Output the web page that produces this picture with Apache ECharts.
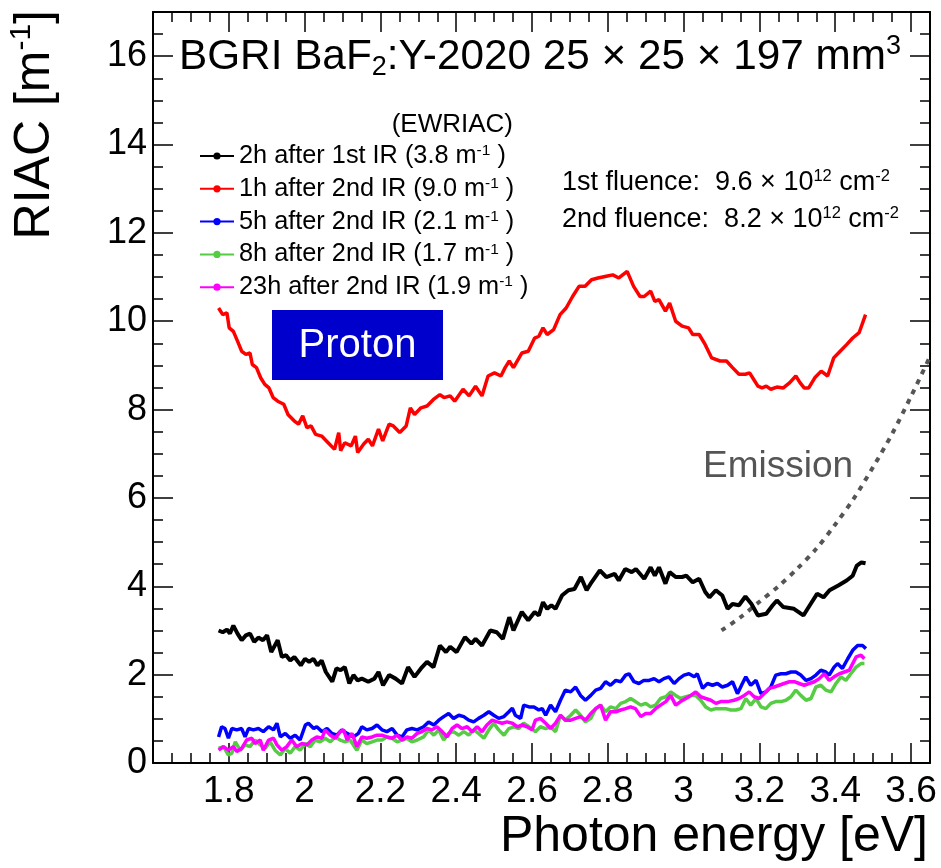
<!DOCTYPE html>
<html>
<head>
<meta charset="utf-8">
<script src="https://cdn.jsdelivr.net/npm/echarts@6/dist/echarts.min.js"></script>
<style>
  html, body { margin: 0; padding: 0; background: #fff; }
  #chart { width: 941px; height: 868px; }
</style>
</head>
<body>
<div id="chart"></div>
<script>
// RIAC spectra of a BaF2:Y crystal after two proton irradiations: [photon energy (eV), RIAC (1/m)]
const after1stIR_2h = [
  [1.773,3.00],[1.784,2.96],[1.795,3.02],[1.803,2.93],[1.812,3.11],[1.823,2.93],[1.834,2.78],[1.845,2.89],
  [1.856,2.93],[1.867,2.74],[1.878,2.84],[1.890,2.78],[1.901,2.89],[1.912,2.51],[1.929,2.78],[1.940,2.40],
  [1.951,2.44],[1.962,2.32],[1.973,2.40],[1.990,2.21],[2.001,2.36],[2.012,2.29],[2.023,2.36],[2.034,2.21],
  [2.045,2.32],[2.056,2.06],[2.073,1.84],[2.084,2.14],[2.095,2.10],[2.106,2.17],[2.118,1.80],[2.129,1.99],
  [2.140,1.87],[2.151,1.91],[2.168,1.84],[2.184,1.91],[2.195,2.06],[2.207,1.76],[2.223,1.99],[2.240,1.91],
  [2.257,1.80],[2.273,2.17],[2.290,1.95],[2.307,2.14],[2.323,2.29],[2.340,2.17],[2.357,2.66],[2.373,2.51],
  [2.384,2.63],[2.401,2.51],[2.423,2.85],[2.440,2.70],[2.451,2.81],[2.468,2.66],[2.490,3.00],[2.507,2.96],
  [2.523,2.81],[2.540,3.30],[2.551,3.00],[2.573,3.42],[2.590,3.23],[2.607,3.42],[2.618,3.34],[2.629,3.64],
  [2.640,3.49],[2.651,3.57],[2.662,3.49],[2.679,3.79],[2.696,3.91],[2.712,3.94],[2.729,4.21],[2.744,3.91],
  [2.757,4.09],[2.779,4.36],[2.796,4.21],[2.818,4.28],[2.829,4.13],[2.846,4.39],[2.863,4.32],[2.874,4.39],
  [2.896,4.17],[2.913,4.43],[2.924,4.24],[2.935,4.43],[2.952,4.06],[2.963,4.32],[2.979,4.21],[2.996,4.21],
  [3.007,4.24],[3.024,4.09],[3.041,4.17],[3.057,3.87],[3.068,3.75],[3.085,3.91],[3.102,3.79],[3.116,3.49],
  [3.129,3.60],[3.146,3.57],[3.163,3.77],[3.179,3.60],[3.196,3.34],[3.218,3.38],[3.235,3.57],[3.246,3.68],
  [3.263,3.53],[3.291,3.49],[3.316,3.34],[3.335,3.60],[3.352,3.83],[3.369,3.75],[3.385,3.91],[3.408,4.02],
  [3.430,4.13],[3.446,4.24],[3.457,4.47],[3.469,4.54],[3.480,4.52]
];

const after2ndIR_1h = [
  [1.773,10.30],[1.784,10.15],[1.795,10.19],[1.801,9.85],[1.812,9.77],[1.823,9.55],[1.834,9.32],[1.845,9.25],
  [1.856,9.28],[1.862,9.02],[1.873,8.95],[1.884,8.72],[1.895,8.57],[1.906,8.49],[1.917,8.27],[1.929,8.19],
  [1.945,8.12],[1.956,7.89],[1.973,7.74],[1.984,7.67],[1.995,7.86],[2.006,7.59],[2.017,7.63],[2.029,7.44],
  [2.045,7.40],[2.062,7.25],[2.079,7.10],[2.090,7.48],[2.095,7.07],[2.106,7.25],[2.123,7.18],[2.134,7.40],
  [2.140,7.03],[2.156,7.22],[2.168,7.33],[2.179,7.18],[2.195,7.56],[2.206,7.29],[2.223,7.67],[2.234,7.63],
  [2.251,7.48],[2.268,7.63],[2.279,8.04],[2.290,7.89],[2.307,8.04],[2.323,8.08],[2.340,8.23],[2.357,8.34],
  [2.368,8.27],[2.384,8.31],[2.396,8.19],[2.418,8.46],[2.434,8.31],[2.451,8.53],[2.468,8.31],[2.484,8.76],
  [2.501,8.83],[2.518,8.76],[2.529,8.95],[2.540,9.10],[2.551,8.95],[2.573,9.28],[2.590,9.32],[2.607,9.62],
  [2.618,9.66],[2.629,9.85],[2.640,9.70],[2.657,9.81],[2.674,10.15],[2.690,10.30],[2.707,10.56],[2.724,10.79],
  [2.740,10.79],[2.757,10.94],[2.774,10.98],[2.796,11.02],[2.813,11.05],[2.829,10.98],[2.851,11.13],[2.868,10.79],
  [2.885,10.56],[2.896,10.56],[2.913,10.68],[2.924,10.45],[2.935,10.49],[2.952,10.23],[2.963,10.41],[2.979,10.00],
  [2.996,9.89],[3.013,9.85],[3.024,9.70],[3.041,9.70],[3.057,9.47],[3.074,9.17],[3.096,9.10],[3.113,9.10],
  [3.129,8.95],[3.146,8.80],[3.163,8.80],[3.174,8.83],[3.185,8.68],[3.196,8.53],[3.207,8.49],[3.218,8.53],
  [3.230,8.46],[3.246,8.51],[3.263,8.49],[3.280,8.61],[3.296,8.76],[3.307,8.61],[3.318,8.49],[3.330,8.49],
  [3.346,8.72],[3.363,8.87],[3.380,8.76],[3.396,9.17],[3.413,9.32],[3.430,9.47],[3.446,9.62],[3.463,9.74],
  [3.480,10.15]
];

const after2ndIR_5h = [
  [1.773,0.59],[1.781,0.82],[1.790,0.78],[1.799,0.56],[1.808,0.78],[1.821,0.75],[1.834,0.78],[1.843,0.59],
  [1.852,0.78],[1.865,0.75],[1.878,0.78],[1.891,0.71],[1.905,0.82],[1.918,0.75],[1.927,0.90],[1.936,0.59],
  [1.949,0.67],[1.962,0.56],[1.975,0.63],[1.988,0.52],[2.002,0.86],[2.010,0.90],[2.024,0.78],[2.032,0.82],
  [2.046,0.71],[2.059,0.78],[2.072,0.67],[2.085,0.63],[2.098,0.75],[2.112,0.67],[2.129,0.59],[2.142,0.67],
  [2.151,0.82],[2.164,0.75],[2.178,0.78],[2.191,0.86],[2.204,0.75],[2.217,0.71],[2.231,0.78],[2.244,0.63],
  [2.257,0.59],[2.270,0.75],[2.283,0.78],[2.297,0.75],[2.314,0.82],[2.327,0.93],[2.341,0.86],[2.354,0.97],
  [2.367,1.05],[2.380,1.12],[2.393,1.01],[2.407,1.08],[2.420,1.05],[2.433,0.97],[2.446,0.93],[2.459,1.01],
  [2.473,1.08],[2.486,1.16],[2.499,1.08],[2.512,1.01],[2.526,1.05],[2.539,1.16],[2.548,1.24],[2.556,1.08],
  [2.570,1.01],[2.578,1.31],[2.592,1.27],[2.605,1.27],[2.618,1.20],[2.627,1.23],[2.636,1.08],[2.649,1.31],
  [2.662,1.16],[2.675,1.42],[2.688,1.65],[2.702,1.61],[2.715,1.72],[2.728,1.53],[2.741,1.42],[2.755,1.53],
  [2.768,1.65],[2.781,1.69],[2.794,1.84],[2.807,1.76],[2.821,1.87],[2.834,1.84],[2.847,1.99],[2.856,2.02],
  [2.869,1.84],[2.882,1.80],[2.895,1.87],[2.909,1.87],[2.922,1.91],[2.935,1.84],[2.948,1.91],[2.961,1.95],
  [2.975,1.80],[2.988,1.91],[3.001,1.99],[3.014,2.02],[3.028,1.95],[3.036,2.02],[3.050,1.69],[3.063,1.80],
  [3.076,1.76],[3.089,1.80],[3.102,1.72],[3.116,1.76],[3.129,1.84],[3.142,1.57],[3.155,1.80],[3.164,1.95],
  [3.177,1.76],[3.191,1.87],[3.204,1.57],[3.217,1.61],[3.230,1.72],[3.243,1.99],[3.257,2.02],[3.270,2.02],
  [3.283,2.06],[3.296,2.06],[3.309,1.99],[3.323,1.87],[3.336,1.91],[3.349,1.99],[3.362,2.10],[3.375,2.06],
  [3.384,1.99],[3.397,2.17],[3.406,2.25],[3.419,2.14],[3.433,2.36],[3.446,2.55],[3.459,2.66],[3.472,2.66],
  [3.481,2.59]
];

const after2ndIR_8h = [
  [1.773,0.33],[1.786,0.37],[1.799,0.18],[1.808,0.22],[1.817,0.48],[1.830,0.29],[1.843,0.41],[1.856,0.37],
  [1.869,0.52],[1.883,0.41],[1.896,0.33],[1.909,0.48],[1.922,0.29],[1.936,0.18],[1.949,0.33],[1.962,0.22],
  [1.975,0.37],[1.988,0.29],[2.002,0.44],[2.015,0.37],[2.028,0.52],[2.041,0.48],[2.054,0.56],[2.068,0.48],
  [2.081,0.59],[2.094,0.52],[2.107,0.48],[2.120,0.52],[2.138,0.29],[2.151,0.52],[2.164,0.44],[2.178,0.48],
  [2.191,0.52],[2.204,0.52],[2.217,0.59],[2.231,0.56],[2.244,0.48],[2.257,0.52],[2.270,0.56],[2.283,0.48],
  [2.297,0.52],[2.314,0.59],[2.327,0.75],[2.341,0.63],[2.354,0.75],[2.367,0.52],[2.380,0.67],[2.393,0.71],
  [2.407,0.63],[2.420,0.71],[2.433,0.63],[2.446,0.75],[2.459,0.67],[2.473,0.56],[2.486,0.75],[2.499,0.90],
  [2.512,0.75],[2.526,0.63],[2.539,0.78],[2.552,0.82],[2.565,0.78],[2.578,0.90],[2.592,0.82],[2.609,0.71],
  [2.622,0.82],[2.636,0.78],[2.649,0.82],[2.662,0.71],[2.675,1.08],[2.688,0.97],[2.702,1.08],[2.715,1.20],
  [2.728,1.08],[2.741,0.93],[2.755,1.01],[2.768,1.23],[2.781,1.31],[2.794,1.16],[2.807,1.27],[2.821,1.23],
  [2.834,1.35],[2.847,1.39],[2.860,1.46],[2.873,1.39],[2.887,1.31],[2.900,1.35],[2.913,1.27],[2.926,1.31],
  [2.939,1.46],[2.953,1.50],[2.966,1.61],[2.979,1.53],[2.992,1.46],[3.006,1.50],[3.019,1.53],[3.032,1.53],
  [3.045,1.42],[3.058,1.27],[3.072,1.20],[3.085,1.23],[3.098,1.23],[3.111,1.23],[3.124,1.20],[3.138,1.20],
  [3.151,1.23],[3.164,1.46],[3.177,1.31],[3.191,1.46],[3.204,1.27],[3.217,1.23],[3.230,1.35],[3.243,1.39],
  [3.257,1.39],[3.270,1.42],[3.283,1.50],[3.296,1.65],[3.309,1.53],[3.323,1.42],[3.336,1.46],[3.349,1.72],
  [3.362,1.76],[3.375,1.65],[3.389,1.61],[3.402,1.80],[3.415,1.95],[3.428,1.87],[3.441,2.02],[3.455,2.17],
  [3.468,2.25],[3.477,2.25]
];

const after2ndIR_23h = [
  [1.773,0.29],[1.786,0.37],[1.799,0.29],[1.812,0.37],[1.821,0.26],[1.834,0.33],[1.847,0.52],[1.861,0.56],
  [1.869,0.44],[1.883,0.52],[1.891,0.29],[1.905,0.52],[1.918,0.56],[1.927,0.41],[1.940,0.29],[1.953,0.37],
  [1.966,0.52],[1.979,0.37],[1.993,0.44],[2.006,0.41],[2.019,0.52],[2.032,0.59],[2.046,0.56],[2.054,0.75],
  [2.068,0.63],[2.081,0.56],[2.094,0.71],[2.103,0.75],[2.112,0.52],[2.125,0.67],[2.138,0.37],[2.151,0.59],
  [2.164,0.56],[2.178,0.59],[2.191,0.63],[2.204,0.63],[2.217,0.59],[2.231,0.56],[2.244,0.63],[2.257,0.52],
  [2.270,0.59],[2.283,0.56],[2.297,0.67],[2.310,0.71],[2.323,0.78],[2.336,0.75],[2.349,0.82],[2.363,0.71],
  [2.376,0.59],[2.389,0.78],[2.402,0.86],[2.415,0.78],[2.429,0.82],[2.442,0.71],[2.455,0.82],[2.468,0.71],
  [2.481,0.86],[2.495,0.97],[2.508,0.93],[2.521,0.90],[2.534,0.93],[2.548,0.90],[2.561,0.82],[2.574,0.86],
  [2.587,0.82],[2.600,0.75],[2.609,0.97],[2.622,1.01],[2.636,0.90],[2.649,0.78],[2.662,0.90],[2.675,1.08],
  [2.688,0.97],[2.702,0.97],[2.715,1.01],[2.728,1.05],[2.741,0.97],[2.755,1.12],[2.768,1.23],[2.781,1.31],
  [2.794,0.97],[2.807,1.16],[2.821,1.16],[2.834,1.20],[2.847,1.23],[2.860,1.27],[2.873,1.23],[2.887,1.05],
  [2.900,1.12],[2.913,1.12],[2.926,1.23],[2.939,1.31],[2.953,1.39],[2.966,1.53],[2.979,1.31],[2.992,1.39],
  [3.006,1.46],[3.019,1.53],[3.032,1.61],[3.045,1.50],[3.058,1.46],[3.072,1.42],[3.085,1.35],[3.098,1.39],
  [3.116,1.39],[3.133,1.42],[3.146,1.46],[3.160,1.53],[3.173,1.61],[3.186,1.50],[3.199,1.46],[3.212,1.57],
  [3.226,1.69],[3.239,1.72],[3.252,1.76],[3.265,1.80],[3.279,1.84],[3.292,1.84],[3.305,1.80],[3.318,1.76],
  [3.331,1.80],[3.345,1.84],[3.358,1.91],[3.371,2.02],[3.384,1.87],[3.397,1.95],[3.411,2.02],[3.424,2.06],
  [3.437,2.10],[3.446,2.25],[3.455,2.40],[3.468,2.44],[3.477,2.36]
];

// scintillation emission profile (arbitrary scale), drawn dotted
const emission = [
  [3.10,3.00],[3.15,3.30],[3.20,3.65],[3.25,4.00],[3.30,4.40],[3.35,4.85],[3.40,5.40],[3.45,6.00],
  [3.50,6.70],[3.55,7.45],[3.60,8.30],[3.65,9.20]
];

const seriesNames = [
  '2h after 1st IR (3.8 m-1 )',
  '1h after 2nd IR (9.0 m-1 )',
  '5h after 2nd IR (2.1 m-1 )',
  '8h after 2nd IR (1.7 m-1 )',
  '23h after 2nd IR (1.9 m-1 )'
];
const seriesColors = ['#000000', '#ff0000', '#0000ff', '#55cc44', '#ff00ff'];
const seriesWidths = [4, 3.5, 3.5, 3.5, 3.5];
const seriesData = [after1stIR_2h, after2ndIR_1h, after2ndIR_5h, after2ndIR_8h, after2ndIR_23h];

const xMin = 1.6, xMax = 3.65, xStep = 0.2;
const yMin = 0, yMax = 17, yStep = 2;

const FONT = 'Liberation Sans';

const chart = echarts.init(document.getElementById('chart'), null, { renderer: 'canvas' });

const frameLine = { show: true, onZero: false, lineStyle: { color: '#000', width: 2 } };
const majorTick = { show: true, inside: true, length: 20, lineStyle: { color: '#000', width: 1.5 } };
const minorTick = { show: true, splitNumber: 4, length: 10, lineStyle: { color: '#000', width: 1.5 } };

function dataSeries(i) {
  return {
    type: 'line',
    name: seriesNames[i],
    data: seriesData[i],
    symbol: 'circle',
    symbolSize: 7,
    showSymbol: false,
    smooth: false,
    color: seriesColors[i],
    lineStyle: { color: seriesColors[i], width: seriesWidths[i] },
    itemStyle: { color: seriesColors[i] },
    emphasis: { disabled: true },
    z: 3 + i
  };
}

const supStyle = { fontFamily: FONT, fontSize: 15.5, color: '#000', verticalAlign: 'top', lineHeight: 15 };

chart.setOption({
  animation: false,
  backgroundColor: '#fff',
  grid: { left: 153, right: 11, top: 12, bottom: 105, containLabel: false },
  xAxis: [
    {
      type: 'value', position: 'bottom', min: xMin, max: xMax, interval: xStep,
      axisLine: frameLine, axisTick: majorTick, minorTick: minorTick,
      splitLine: { show: false }, minorSplitLine: { show: false },
      axisLabel: {
        show: true, margin: 10, fontFamily: FONT, fontSize: 37, color: '#000',
        showMinLabel: false, showMaxLabel: false,
        formatter: v => (Math.abs(v - xMin) < 1e-6 ? '' : String(Math.round(v * 10) / 10))
      }
    },
    {
      type: 'value', position: 'top', min: xMin, max: xMax, interval: xStep,
      axisLine: frameLine, axisTick: majorTick, minorTick: minorTick,
      splitLine: { show: false }, axisLabel: { show: false }
    }
  ],
  yAxis: [
    {
      type: 'value', position: 'left', min: yMin, max: yMax, interval: yStep,
      axisLine: frameLine, axisTick: majorTick, minorTick: minorTick,
      splitLine: { show: false }, minorSplitLine: { show: false },
      axisLabel: { show: true, margin: 6, fontFamily: FONT, fontSize: 36, color: '#000', showMaxLabel: false }
    },
    {
      type: 'value', position: 'right', min: yMin, max: yMax, interval: yStep,
      axisLine: frameLine, axisTick: majorTick, minorTick: minorTick,
      splitLine: { show: false }, axisLabel: { show: false }
    }
  ],
  legend: {
    orient: 'vertical', left: 199, top: 143, padding: 0,
    itemWidth: 34, itemHeight: 9, itemGap: 6.8,
    selectedMode: false,
    data: seriesNames,
    formatter: n => n.replace('m-1', 'm{sup|-1}'),
    textStyle: { fontFamily: FONT, fontSize: 25.3, color: '#000', lineHeight: 26, rich: { sup: supStyle } }
  },
  series: [
    dataSeries(0), dataSeries(1), dataSeries(2), dataSeries(3), dataSeries(4),
    {
      type: 'line', name: 'Emission', data: emission, symbol: 'none',
      smooth: 0.3,
      lineStyle: { color: '#555', width: 4, type: [5, 6] },
      emphasis: { disabled: true }, z: 2
    }
  ],
  graphic: [
    {
      type: 'text', x: 179, y: 33, silent: true,
      style: {
        text: 'BGRI BaF{sub|2}:Y-2020 25 × 25 × 197 mm{sup|3}',
        fontFamily: FONT, fontSize: 42.3, lineHeight: 48, fill: '#000',
        align: 'left', verticalAlign: 'top', textAlign: 'left', textVerticalAlign: 'top',
        rich: {
          sub: { fontFamily: FONT, fontSize: 27, lineHeight: 26, verticalAlign: 'bottom', color: '#000' },
          sup: { fontFamily: FONT, fontSize: 27, lineHeight: 26, verticalAlign: 'top', color: '#000' }
        }
      }
    },
    {
      type: 'text', x: 513, y: 125, silent: true,
      style: {
        text: '(EWRIAC)', fontFamily: FONT, fontSize: 26, fill: '#000',
        align: 'right', verticalAlign: 'middle', textAlign: 'right', textVerticalAlign: 'middle'
      }
    },
    {
      type: 'text', x: 562, y: 168, silent: true,
      style: {
        text: '1st fluence:  9.6 × 10{sup|12} cm{sup|-2}',
        fontFamily: FONT, fontSize: 27, lineHeight: 30, fill: '#000',
        align: 'left', verticalAlign: 'top', textAlign: 'left', textVerticalAlign: 'top',
        rich: { sup: { fontFamily: FONT, fontSize: 16.5, lineHeight: 16, verticalAlign: 'top', color: '#000' } }
      }
    },
    {
      type: 'text', x: 562, y: 205, silent: true,
      style: {
        text: '2nd fluence:  8.2 × 10{sup|12} cm{sup|-2}',
        fontFamily: FONT, fontSize: 27, lineHeight: 30, fill: '#000',
        align: 'left', verticalAlign: 'top', textAlign: 'left', textVerticalAlign: 'top',
        rich: { sup: { fontFamily: FONT, fontSize: 16.5, lineHeight: 16, verticalAlign: 'top', color: '#000' } }
      }
    },
    {
      type: 'rect', silent: true,
      shape: { x: 272, y: 310, width: 171, height: 70 },
      style: { fill: '#0000cc' }
    },
    {
      type: 'text', x: 357.5, y: 346, silent: true,
      style: {
        text: 'Proton', fontFamily: FONT, fontSize: 40, fill: '#fff',
        align: 'center', verticalAlign: 'middle', textAlign: 'center', textVerticalAlign: 'middle'
      }
    },
    {
      type: 'text', x: 703, y: 467, silent: true,
      style: {
        text: 'Emission', fontFamily: FONT, fontSize: 37, fill: '#555',
        align: 'left', verticalAlign: 'middle', textAlign: 'left', textVerticalAlign: 'middle'
      }
    },
    {
      type: 'text', x: 928, y: 837, silent: true,
      style: {
        text: 'Photon energy [eV]', fontFamily: FONT, fontSize: 50, fill: '#000',
        align: 'right', verticalAlign: 'middle', textAlign: 'right', textVerticalAlign: 'middle'
      }
    },
    {
      type: 'text', x: 35, y: 10, rotation: Math.PI / 2, silent: true,
      style: {
        text: 'RIAC [m{sup|-1}]', fontFamily: FONT, fontSize: 50, lineHeight: 56, fill: '#000',
        align: 'right', verticalAlign: 'middle', textAlign: 'right', textVerticalAlign: 'middle',
        rich: { sup: { fontFamily: FONT, fontSize: 30, lineHeight: 30, verticalAlign: 'top', color: '#000' } }
      }
    }
  ]
});
</script>
</body>
</html>
